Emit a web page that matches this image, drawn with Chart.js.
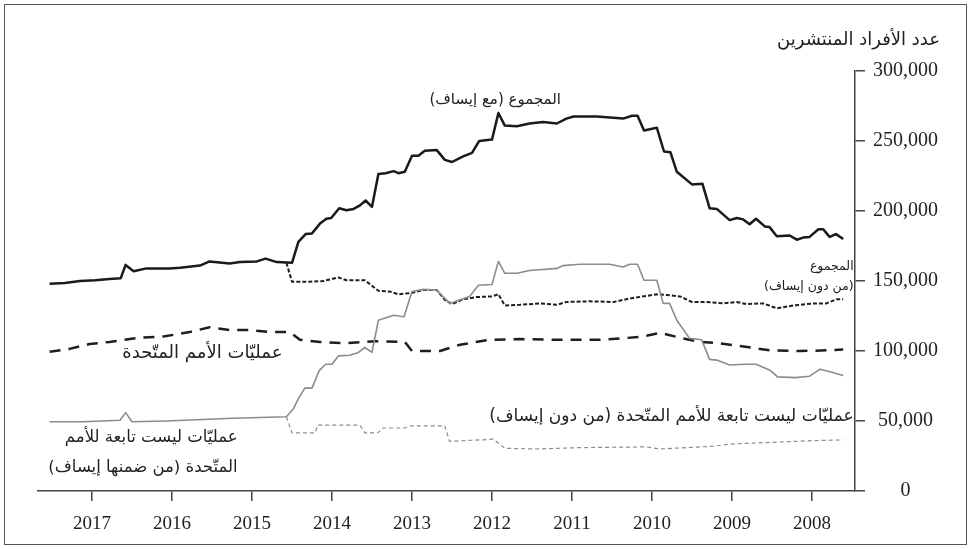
<!DOCTYPE html>
<html><head><meta charset="utf-8">
<script src="https://cdn.jsdelivr.net/npm/chart.js@4.4.0/dist/chart.umd.min.js"></script>
<style>html,body{margin:0;padding:0;background:#fff;}#wrap{width:971px;height:549px;position:relative;}</style>
</head><body><div id="wrap"><canvas id="c" width="971" height="549"></canvas></div>
<script>
// Year tick labels (each tick sits at the middle of its year)
const yearLabels = [2008, 2009, 2010, 2011, 2012, 2013, 2014, 2015, 2016, 2017];
const yTickValues = [0, 50000, 100000, 150000, 200000, 250000, 300000];

// Total (with ISAF)
const totalWithIsafTime = [2018.03,2017.84,2017.65,2017.46,2017.28,2017.14,2017.08,2016.98,2016.82,2016.53,2016.40,2016.15,2016.03,2015.78,2015.65,2015.44,2015.33,2015.19,2015.00,2014.92,2014.83,2014.75,2014.65,2014.57,2014.51,2014.41,2014.32,2014.23,2014.15,2014.08,2014.00,2013.92,2013.83,2013.73,2013.67,2013.59,2013.50,2013.42,2013.34,2013.19,2013.09,2013.00,2012.86,2012.75,2012.66,2012.50,2012.42,2012.34,2012.19,2012.03,2011.86,2011.69,2011.57,2011.48,2011.19,2010.86,2010.75,2010.68,2010.60,2010.44,2010.35,2010.27,2010.19,2010.00,2009.87,2009.78,2009.69,2009.53,2009.44,2009.36,2009.28,2009.20,2009.09,2009.03,2008.94,2008.78,2008.69,2008.61,2008.53,2008.42,2008.36,2008.28,2008.20,2008.11];
const totalWithIsaf = [148000,148500,150000,150500,151500,152000,161500,157000,159000,159000,159500,161000,164000,162500,163500,164000,166000,163500,163000,178000,183500,184000,191000,194500,195000,202000,200500,201500,204000,207500,203000,226500,227000,228500,227000,228000,239500,239500,243000,243500,236500,235000,239000,241500,250000,251000,270000,261000,260500,262500,263500,262500,266000,267500,267500,266000,268000,268000,257500,259500,242500,242000,228000,219000,219500,202000,201500,193500,195000,194000,190500,194500,189000,188500,182000,182500,179500,181000,181500,187000,187000,181500,183500,180000];

// Total (without ISAF)
const totalNoIsafTime = [2015.07,2015.00,2014.78,2014.61,2014.42,2014.32,2014.09,2013.92,2013.78,2013.67,2013.50,2013.36,2013.19,2013.09,2013.00,2012.86,2012.69,2012.50,2012.42,2012.34,2012.15,2011.90,2011.69,2011.57,2011.28,2010.98,2010.78,2010.44,2010.32,2010.15,2010.00,2009.82,2009.61,2009.44,2009.32,2009.11,2008.94,2008.73,2008.48,2008.32,2008.19,2008.11];
const totalNoIsaf = [163000,149500,149500,150000,152500,150500,150500,143000,142500,140500,141500,143500,143500,136500,133500,137000,138500,139000,140500,132500,133000,134000,133000,135000,135500,135000,137500,140500,140000,139000,135000,135000,134000,135000,133500,134000,130500,132500,134000,134000,137000,137000];

// UN operations
const unOpsTime = [2018.03,2017.78,2017.53,2017.28,2016.90,2016.59,2016.28,2016.03,2015.78,2015.53,2015.28,2015.03,2014.90,2014.65,2014.34,2013.96,2013.59,2013.50,2013.15,2012.90,2012.53,2012.15,2011.65,2011.15,2010.65,2010.40,2010.15,2009.90,2009.65,2009.40,2009.03,2008.65,2008.28,2008.11];
const unOps = [99500,101500,105000,106500,109500,110500,113500,117000,115000,115000,113500,113500,108000,106500,105500,107000,106500,100000,100000,104500,108000,108500,108000,108000,110000,113000,109500,106500,105500,103500,100500,100000,100500,101000];

// Non-UN operations (including ISAF)
const nonUnWithIsafTime = [2018.03,2017.61,2017.15,2017.08,2017.00,2016.57,2015.74,2015.07,2014.98,2014.92,2014.84,2014.75,2014.66,2014.58,2014.50,2014.42,2014.28,2014.17,2014.09,2014.00,2013.92,2013.73,2013.60,2013.50,2013.36,2013.19,2013.03,2012.78,2012.67,2012.50,2012.42,2012.34,2012.19,2012.03,2011.69,2011.61,2011.40,2011.03,2010.86,2010.78,2010.68,2010.60,2010.44,2010.36,2010.28,2010.19,2010.03,2009.88,2009.78,2009.69,2009.53,2009.34,2009.20,2009.03,2008.93,2008.71,2008.53,2008.40,2008.30,2008.11];
const nonUnWithIsaf = [49500,49500,50500,56000,49500,50000,52000,53000,59000,66000,73500,73500,86000,90500,90500,96500,97000,99000,102500,99000,122000,125500,124500,142500,144000,143500,134000,139000,147000,147500,164000,155500,155500,157500,159000,161000,162000,162000,160000,162000,162000,150500,150500,134000,134000,122000,109000,108000,94000,93500,90000,90500,90500,86500,81500,81000,82000,87000,85500,82500];

// Non-UN operations (without ISAF)
const nonUnNoIsafTime = [2015.07,2015.00,2014.71,2014.68,2014.15,2014.09,2013.93,2013.86,2013.59,2013.53,2013.09,2013.03,2012.65,2012.48,2012.34,2011.94,2011.40,2010.57,2010.40,2009.73,2009.53,2008.90,2008.48,2008.11];
const nonUnNoIsaf = [53000,41500,41500,47000,47000,41500,41500,45000,45000,46500,46500,35500,36500,37000,30500,30000,31000,31500,30000,32000,33500,35000,36000,36500];

const pts = (ts, vs) => ts.map((t, i) => ({x: t, y: vs[i]}));

const arabicFont = '"DejaVu Sans", sans-serif';
const annotations = [
  {lines: ['المجموع (مع إيساف)'], t: 2012.46, v: 279000, align: 'center', size: 15},
  {lines: ['المجموع', '(من دون إيساف)'], t: 2007.98, v: 160000, align: 'right', size: 12.5, lh: 20},
  {lines: ['عمليّات الأمم المتّحدة'], t: 2015.12, v: 98000, align: 'right', size: 18},
  {lines: ['عمليّات ليست تابعة للأمم المتّحدة (من دون إيساف)'], t: 2007.98, v: 53500, align: 'right', size: 17},
  {lines: ['عمليّات ليست تابعة للأمم', 'المتّحدة (من ضمنها إيساف)'], t: 2015.68, v: 38000, align: 'right', size: 16.5, lh: 30}
];

const decor = {
  id: 'decor',
  beforeDraw(chart) {
    const ctx = chart.ctx;
    ctx.save();
    ctx.fillStyle = '#fff';
    ctx.fillRect(0, 0, chart.width, chart.height);
    ctx.strokeStyle = '#555';
    ctx.lineWidth = 1;
    ctx.strokeRect(4.5, 4.5, chart.width - 9, chart.height - 9);
    ctx.restore();
  },
  afterDraw(chart) {
    const ctx = chart.ctx;
    const xs = chart.scales.x, ys = chart.scales.y;
    ctx.save();
    ctx.fillStyle = '#222';
    ctx.direction = 'rtl';
    ctx.textBaseline = 'middle';
    // axis title
    ctx.font = '18px ' + arabicFont;
    ctx.textAlign = 'right';
    ctx.fillText('عدد الأفراد المنتشرين', ys.left + 85, 40);
    annotations.forEach(a => {
      ctx.font = a.size + 'px ' + arabicFont;
      ctx.textAlign = a.align;
      const x = xs.getPixelForValue(a.t);
      const y = ys.getPixelForValue(a.v);
      a.lines.forEach((ln, i) => ctx.fillText(ln, x, y + i * (a.lh || 0)));
    });
    ctx.restore();
  }
};

new Chart(document.getElementById('c'), {
  type: 'line',
  data: {
    datasets: [
      {data: pts(nonUnNoIsafTime, nonUnNoIsaf), borderColor: '#8c8c8c', borderWidth: 1.2, borderDash: [4, 3]},
      {data: pts(nonUnWithIsafTime, nonUnWithIsaf), borderColor: '#8c8c8c', borderWidth: 1.6},
      {data: pts(unOpsTime, unOps), borderColor: '#1e1e1e', borderWidth: 2.5, borderDash: [11, 8]},
      {data: pts(totalNoIsafTime, totalNoIsaf), borderColor: '#1e1e1e', borderWidth: 2, borderDash: [4, 2]},
      {data: pts(totalWithIsafTime, totalWithIsaf), borderColor: '#1a1a1a', borderWidth: 2.5}
    ]
  },
  options: {
    responsive: false,
    animation: false,
    devicePixelRatio: 1,
    layout: {padding: {left: 38, top: 71, right: 0, bottom: 0}},
    plugins: {legend: {display: false}, tooltip: {enabled: false}},
    elements: {point: {radius: 0}, line: {tension: 0, borderJoinStyle: 'round', fill: false}},
    scales: {
      x: {
        type: 'linear', reverse: true, min: 2007.9625, max: 2018.175,
        afterBuildTicks: s => { s.ticks = yearLabels.map(y => ({value: y + 0.5})); },
        afterFit: s => { s.height = 58; },
        ticks: {callback: v => String(Math.floor(v)), font: {family: '"Liberation Serif", serif', size: 19}, color: '#222', padding: 12, maxRotation: 0, autoSkip: false},
        grid: {drawOnChartArea: false, tickLength: 10, color: '#444', lineWidth: 1.5},
        border: {display: true, color: '#444', width: 1.5}
      },
      y: {
        position: 'right', min: 0, max: 300000,
        afterBuildTicks: s => { s.ticks = yTickValues.map(v => ({value: v})); },
        afterFit: s => { s.width = 116; },
        ticks: {callback: v => v.toLocaleString('en-US'), font: {family: '"Liberation Serif", serif', size: 20}, color: '#222', padding: 8, crossAlign: 'center'},
        grid: {drawOnChartArea: false, tickLength: 10, color: '#444', lineWidth: 1.5},
        border: {display: true, color: '#444', width: 1.5}
      }
    }
  },
  plugins: [decor]
});
</script></body></html>
